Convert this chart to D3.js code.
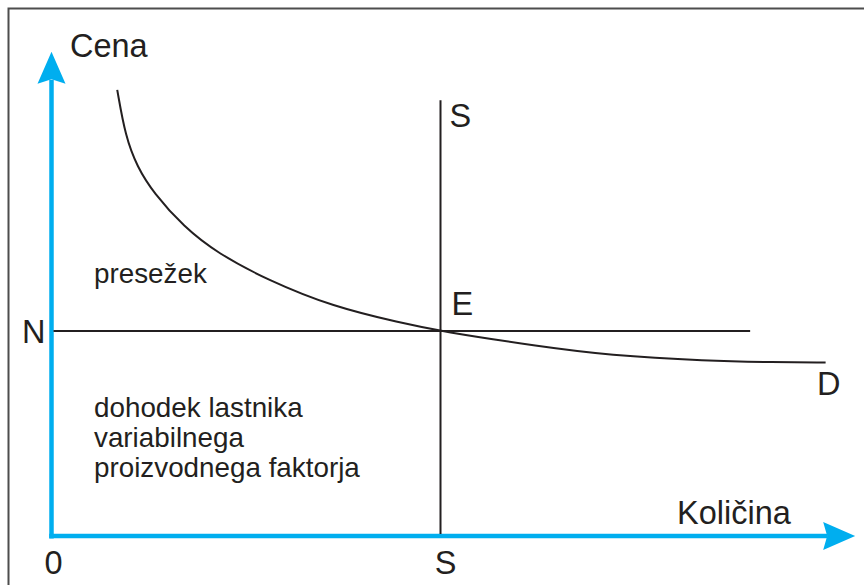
<!DOCTYPE html>
<html>
<head>
<meta charset="utf-8">
<script src="https://cdn.jsdelivr.net/npm/d3@7"></script>
<style>
  html, body { margin: 0; padding: 0; background: #fff; }
  svg { display: block; }
  text { font-family: "Liberation Sans", Arial, Helvetica, sans-serif; fill: #231f20; }
</style>
</head>
<body>
<svg id="chart" width="864" height="585"></svg>
<script>
// ---- data (abstract units: quantity 0..10, price 0..10) ----
const demandQ = [0.845, 0.951, 1.10, 1.31, 1.70, 2.13, 2.78, 3.62, 4.49, 5.00, 6.29, 7.15, 8.43, 9.28, 9.95];
const demandP = [10.88, 9.74, 9.01, 8.37, 7.54, 6.90, 6.24, 5.59, 5.20, 4.99, 4.62, 4.41, 4.27, 4.24, 4.23];
const supplyQ = 5;          // vertical supply line S
const supplyTopP = 10.63;
const priceN = 5;           // horizontal price line N
const priceLineEndQ = 8.98;
const axisMaxQ = 10.33;
const axisMaxP = 11.81;
const axisLabels = { y: "Cena", x: "Količina" };
const pointLabels = { origin: "0", n: "N", sBottom: "S", sTop: "S", e: "E", d: "D" };
const surplusLabel = ["presežek"];
const incomeLabel = ["dohodek lastnika", "variabilnega", "proizvodnega faktorja"];

const svg = d3.select("#chart");
const x = d3.scaleLinear().domain([0, 10]).range([51.5, 829.5]);
const y = d3.scaleLinear().domain([0, 10]).range([536, 126]);
const cyan = "#00aeef";

// frame
svg.append("path")
  .attr("d", `M8.5,590 L8.5,8.5 L870,8.5`)
  .attr("fill", "none").attr("stroke", "#4d4d4d").attr("stroke-width", 2);

// axes lines
svg.append("line")
  .attr("x1", x(0)).attr("y1", y(0) + 2.5).attr("x2", x(0)).attr("y2", y(axisMaxP) + 28)
  .attr("stroke", cyan).attr("stroke-width", 4.5);
svg.append("line")
  .attr("x1", x(0) - 2.3).attr("y1", y(0)).attr("x2", x(axisMaxQ) - 28).attr("y2", y(0))
  .attr("stroke", cyan).attr("stroke-width", 4.5);

// arrowheads
const yt = [x(0), y(axisMaxP)];
svg.append("path")
  .attr("d", `M${yt[0]},${yt[1]} L${yt[0] + 14},${yt[1] + 32} L${yt[0]},${yt[1] + 27.5} L${yt[0] - 14},${yt[1] + 32} Z`)
  .attr("fill", cyan);
const xt = [x(axisMaxQ), y(0)];
svg.append("path")
  .attr("d", `M${xt[0]},${xt[1]} L${xt[0] - 32},${xt[1] - 14} L${xt[0] - 28},${xt[1]} L${xt[0] - 32},${xt[1] + 14} Z`)
  .attr("fill", cyan);

// price line N
svg.append("line")
  .attr("x1", x(0) + 2).attr("y1", y(priceN)).attr("x2", x(priceLineEndQ)).attr("y2", y(priceN))
  .attr("stroke", "#231f20").attr("stroke-width", 2);

// supply line S
svg.append("line")
  .attr("x1", x(supplyQ)).attr("y1", y(0) - 2).attr("x2", x(supplyQ)).attr("y2", y(supplyTopP))
  .attr("stroke", "#231f20").attr("stroke-width", 2);

// demand curve D
const demand = demandQ.map((q, i) => [q, demandP[i]]);
svg.append("path")
  .datum(demand)
  .attr("d", d3.line().x(d => x(d[0])).y(d => y(d[1])).curve(d3.curveBasis))
  .attr("fill", "none").attr("stroke", "#231f20").attr("stroke-width", 2);

// axis titles
const big = 32.5;
svg.append("text").attr("x", 70).attr("y", 57).attr("font-size", big).text(axisLabels.y);
svg.append("text").attr("x", 677).attr("y", 524).attr("font-size", big).text(axisLabels.x);

// point labels
svg.append("text").attr("x", x(0) - 7).attr("y", 574).attr("font-size", big).text(pointLabels.origin);
svg.append("text").attr("x", 22).attr("y", y(priceN) + 11.5).attr("font-size", big).text(pointLabels.n);
svg.append("text").attr("x", x(supplyQ) + 5).attr("y", 574).attr("font-size", big).attr("text-anchor", "middle").text(pointLabels.sBottom);
svg.append("text").attr("x", x(supplyQ) + 9).attr("y", 127).attr("font-size", big).text(pointLabels.sTop);
svg.append("text").attr("x", x(supplyQ) + 11).attr("y", 315).attr("font-size", big).text(pointLabels.e);
svg.append("text").attr("x", 817).attr("y", 395).attr("font-size", big).text(pointLabels.d);

// region labels
const mid = 27.8;
svg.append("text").attr("x", 94).attr("y", 283).attr("font-size", mid).text(surplusLabel[0]);
const inc = svg.append("text").attr("x", 94).attr("y", 417).attr("font-size", mid);
incomeLabel.forEach((s, i) => {
  inc.append("tspan").attr("x", 94).attr("dy", i === 0 ? 0 : 30).text(s);
});
</script>
</body>
</html>
